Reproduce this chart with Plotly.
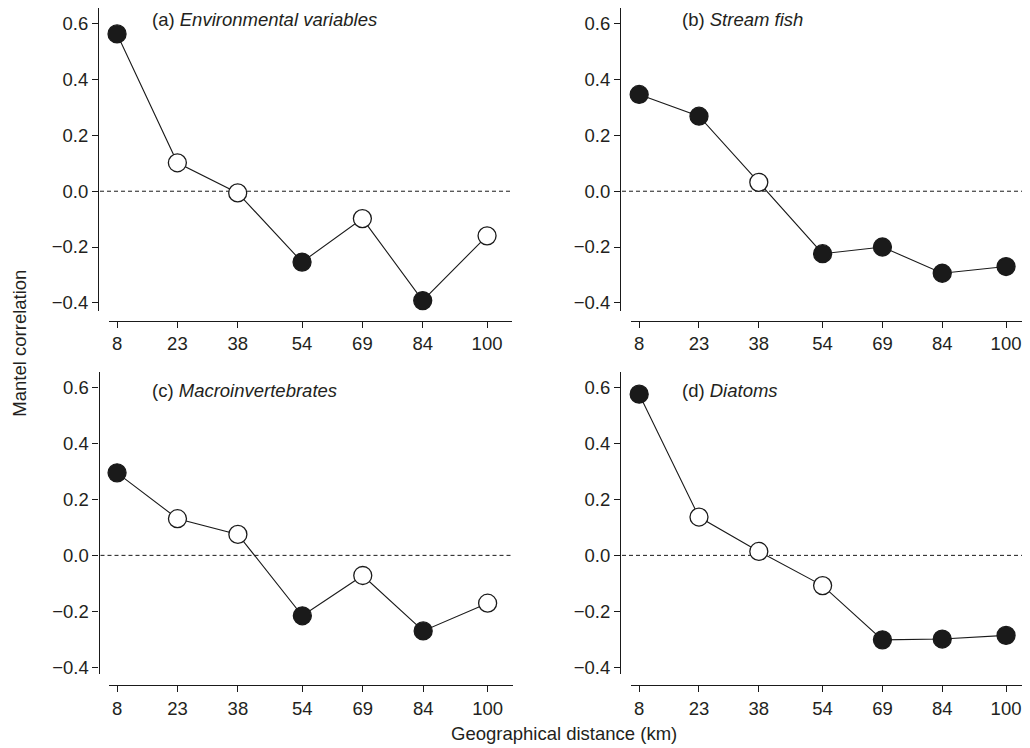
import plotly.graph_objects as go

# ---- data ----
distance = [8, 23, 38, 54, 69, 84, 100]
tick_labels = ["8", "23", "38", "54", "69", "84", "100"]

env_vals = [0.564, 0.102, -0.006, -0.254, -0.098, -0.392, -0.160]
env_sig = [1, 0, 0, 1, 0, 1, 0]
fish_vals = [0.347, 0.269, 0.032, -0.224, -0.200, -0.294, -0.270]
fish_sig = [1, 1, 0, 1, 1, 1, 1]
macro_vals = [0.295, 0.131, 0.075, -0.216, -0.072, -0.270, -0.171]
macro_sig = [1, 0, 0, 1, 0, 1, 0]
diatom_vals = [0.576, 0.137, 0.014, -0.108, -0.302, -0.299, -0.286]
diatom_sig = [1, 0, 0, 0, 1, 1, 1]

panel_letters = ["(a)", "(b)", "(c)", "(d)"]
panel_names = ["Environmental variables", "Stream fish", "Macroinvertebrates", "Diatoms"]
y_ticks = [-0.4, -0.2, 0.0, 0.2, 0.4, 0.6]
y_tick_text = ["\u22120.4", "\u22120.2", "0.0", "0.2", "0.4", "0.6"]

series = [(env_vals, env_sig), (fish_vals, fish_sig), (macro_vals, macro_sig), (diatom_vals, diatom_sig)]

# page body has an 8px margin; lay the figure out in window pixels
OFF = 8
W, H = 1030 - 2 * OFF, 748 - OFF
FONT = "Liberation Sans, Arial, Helvetica, sans-serif"
TXT = "#231f20"
FS = 18.5

def px(x):
    return (x - OFF) / W

def py(y):
    return 1 - (y - OFF) / H

# panel geometry in window pixels
panels = [
    dict(xd=(109, 512), yd=(8, 312), yl=98, xl=322, xr=[6.0, 106.2], yr=[-0.4286, 0.657], lab=(150, 20)),
    dict(xd=(631, 1022), yd=(8, 312), yl=620, xl=322, xr=[5.95, 104.0], yr=[-0.4286, 0.657], lab=(680, 20)),
    dict(xd=(109, 513), yd=(373, 677), yl=98.5, xl=688, xr=[6.0, 106.3], yr=[-0.425, 0.657], lab=(150, 392)),
    dict(xd=(631, 1022), yd=(373, 677), yl=620, xl=688, xr=[5.95, 104.0], yr=[-0.425, 0.657], lab=(680, 392)),
]

fig = go.Figure()
layout = dict(
    width=W, height=H,
    margin=dict(l=0, r=0, t=0, b=0),
    paper_bgcolor="white", plot_bgcolor="white",
    showlegend=False,
    font=dict(family=FONT, size=FS, color=TXT),
)
shapes = []
annotations = []

for i, (p, (vals, sig)) in enumerate(zip(panels, series)):
    k = "" if i == 0 else str(i + 1)
    xa, ya = "x" + k, "y" + k
    colors = ["#1a1a1a" if s else "white" for s in sig]
    fig.add_trace(go.Scatter(
        x=distance, y=vals, xaxis=xa, yaxis=ya,
        mode="lines+markers",
        line=dict(color="#1a1a1a", width=1.1),
        marker=dict(size=18, color=colors, line=dict(color="#1a1a1a", width=1.3)),
        cliponaxis=False,
    ))
    layout["xaxis" + k] = dict(
        domain=[px(p["xd"][0]), min(1.0, px(p["xd"][1]))],
        range=p["xr"], anchor="free", position=py(p["xl"]),
        showgrid=False, zeroline=False,
        showline=True, linecolor="#1a1a1a", linewidth=1.2,
        ticks="outside", ticklen=6, tickwidth=1.2, tickcolor="#1a1a1a",
        tickvals=distance, ticktext=tick_labels,
        tickfont=dict(size=FS, color=TXT, family=FONT),
        fixedrange=True,
    )
    layout["yaxis" + k] = dict(
        domain=[py(p["yd"][1]), min(1.0, py(p["yd"][0]))],
        range=p["yr"], anchor="free", position=px(p["yl"]),
        showgrid=False, zeroline=False,
        showline=True, linecolor="#1a1a1a", linewidth=1.2,
        ticks="outside", ticklen=6, tickwidth=1.2, tickcolor="#1a1a1a",
        tickvals=y_ticks, ticktext=y_tick_text,
        tickfont=dict(size=FS, color=TXT, family=FONT),
        fixedrange=True,
    )
    shapes.append(dict(
        type="line", xref="paper", yref=ya,
        x0=px(p["yl"] + 2), x1=min(1.0, px(p["xd"][1])), y0=0, y1=0,
        line=dict(color="#1a1a1a", width=1, dash="4px,3px"),
        layer="below",
    ))
    annotations.append(dict(
        xref="paper", yref="paper", x=px(p["lab"][0]), y=py(p["lab"][1]),
        xanchor="left", yanchor="middle", showarrow=False,
        text=panel_letters[i] + " <i>" + panel_names[i] + "</i>",
        font=dict(size=FS, color=TXT, family=FONT),
    ))

annotations.append(dict(
    xref="paper", yref="paper", x=px(20), y=py(345),
    xanchor="center", yanchor="middle", showarrow=False, textangle=-90,
    text="Mantel correlation", font=dict(size=FS, color=TXT, family=FONT),
))
annotations.append(dict(
    xref="paper", yref="paper", x=px(564), y=py(736),
    xanchor="center", yanchor="middle", showarrow=False,
    text="Geographical distance (km)", font=dict(size=FS, color=TXT, family=FONT),
))

layout["shapes"] = shapes
layout["annotations"] = annotations
fig.update_layout(**layout)
fig.write_html("out.html")
